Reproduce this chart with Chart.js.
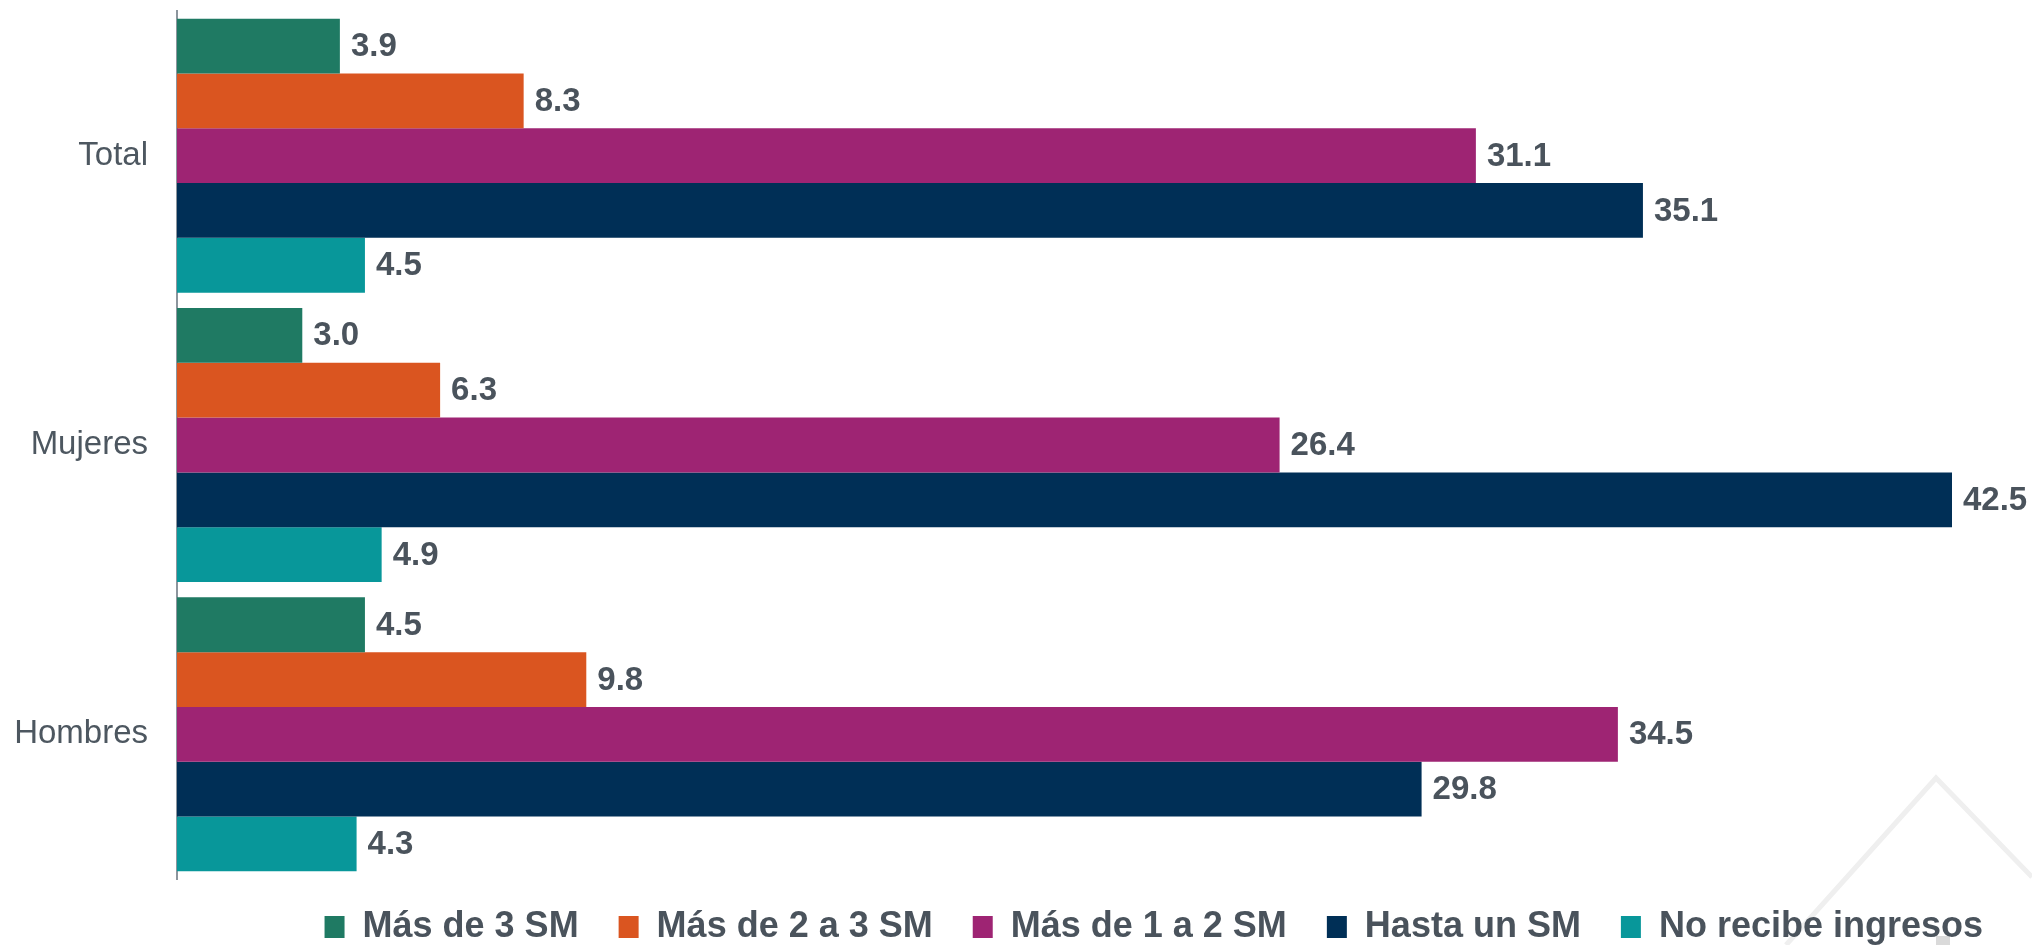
<!DOCTYPE html>
<html>
<head>
<meta charset="utf-8">
<script src="https://cdn.jsdelivr.net/npm/chart.js@4"></script>
<style>
html,body{margin:0;padding:0;background:#fff;}
#wrap{width:2032px;height:945px;position:relative;}
</style>
</head>
<body>
<div id="wrap"><canvas id="c" width="2032" height="945"></canvas></div>
<script>
const categories = ["Total", "Mujeres", "Hombres"];
const seriesNames = ["Más de 3 SM", "Más de 2 a 3 SM", "Más de 1 a 2 SM", "Hasta un SM", "No recibe ingresos"];
const masDe3 = [3.9, 3.0, 4.5];
const masDe2a3 = [8.3, 6.3, 9.8];
const masDe1a2 = [31.1, 26.4, 34.5];
const hastaUn = [35.1, 42.5, 29.8];
const noRecibe = [4.5, 4.9, 4.3];
const seriesColors = ["#1F7A63", "#DA5520", "#9E2473", "#002F56", "#08979A"];

const textGray = "#4A535C";
const FONT = "'Liberation Sans', Arial, sans-serif";

const valueLabels = {
  id: 'valueLabels',
  afterDatasetsDraw(chart) {
    const ctx = chart.ctx;
    ctx.save();
    ctx.font = "bold 33px " + FONT;
    ctx.fillStyle = textGray;
    ctx.textAlign = 'left';
    ctx.textBaseline = 'middle';
    chart.data.datasets.forEach((ds, i) => {
      const meta = chart.getDatasetMeta(i);
      meta.data.forEach((el, j) => {
        ctx.fillText(ds.data[j].toFixed(1), el.x + 11, el.y + 1);
      });
    });
    ctx.restore();
  }
};

const watermark = {
  id: 'watermark',
  beforeDraw(chart) {
    const ctx = chart.ctx;
    ctx.save();
    ctx.strokeStyle = "#EFEFEF";
    ctx.lineWidth = 5;
    ctx.beginPath();
    ctx.moveTo(1786, 945);
    ctx.lineTo(1936, 778);
    ctx.lineTo(2032, 877);
    ctx.stroke();
    ctx.fillStyle = "#DADADA";
    ctx.fillRect(1936, 936, 14, 9);
    ctx.restore();
  }
};

const allSeries = [masDe3, masDe2a3, masDe1a2, hastaUn, noRecibe];

new Chart(document.getElementById('c'), {
  type: 'bar',
  data: {
    labels: categories,
    datasets: allSeries.map((d, i) => ({
      label: seriesNames[i],
      data: d,
      backgroundColor: seriesColors[i],
      borderWidth: 0,
      categoryPercentage: 0.947,
      barPercentage: 1.0
    }))
  },
  options: {
    indexAxis: 'y',
    responsive: false,
    animation: false,
    devicePixelRatio: 1,
    layout: { padding: { left: 0, right: 9, top: 11, bottom: -10 } },
    scales: {
      x: {
        display: false,
        min: 0,
        max: 44.2
      },
      y: {
        grid: { display: false, drawTicks: false },
        border: { display: true, color: "#8C959D", width: 2 },
        ticks: {
          color: "#4D5760",
          font: { family: FONT, size: 33 },
          padding: 29
        },
        afterFit(scale) {
          scale.width = 177;
          scale.paddingTop = 0;
          scale.paddingBottom = 0;
        }
      }
    },
    plugins: {
      legend: {
        position: 'bottom',
        align: 'end',
        labels: {
          color: textGray,
          font: { family: FONT, size: 36, weight: 'bold', lineHeight: 1 },
          boxWidth: 20,
          boxHeight: 22,
          padding: 30,
          generateLabels(chart) {
            return chart.data.datasets.map((ds, i) => ({
              text: ds.label + ' ',
              fillStyle: ds.backgroundColor,
              strokeStyle: ds.backgroundColor,
              lineWidth: 0,
              fontColor: textGray,
              hidden: false,
              datasetIndex: i
            }));
          }
        }
      },
      tooltip: { enabled: false }
    }
  },
  plugins: [valueLabels, watermark]
});
</script>
</body>
</html>
